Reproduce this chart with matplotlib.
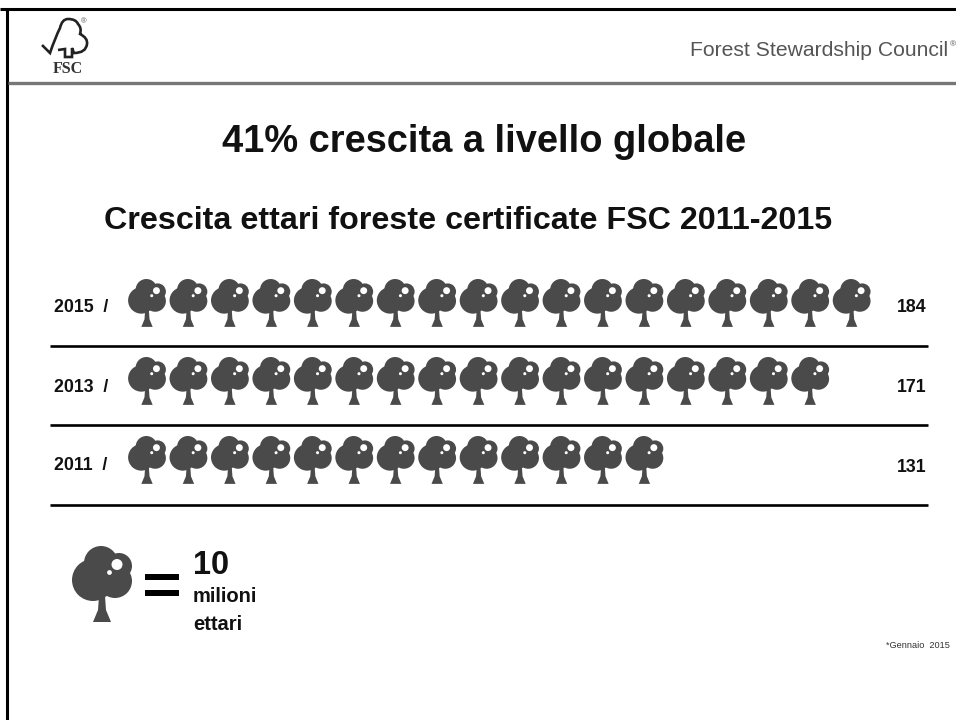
"""FSC slide: certified forest hectares as a row of tree icons."""
import matplotlib
matplotlib.use("Agg")
import matplotlib.pyplot as plt
from matplotlib.patches import Circle, Polygon, PathPatch, Rectangle
from matplotlib.path import Path

plt.rcParams["font.family"] = ["Liberation Sans", "DejaVu Sans"]

years = ["2015", "2013", "2011"]
values = [184, 171, 131]
tree_counts = [18, 17, 13]
row_tops = [279, 357, 436]
label_ys = [307, 387, 466]
rule_ys = [346, 425, 505]

DARK = "#4a4a4a"
INK = "#111111"
W, H = 956, 720

fig = plt.figure(figsize=(W / 100, H / 100), dpi=100)
ax = fig.add_axes([0, 0, 1, 1])
ax.set_xlim(0, W); ax.set_ylim(H, 0); ax.axis("off")


def tree(cx, top, s):
    # lobes measured off the big legend tree, s=1 is 60 px wide
    for dx, dy, r in [(-9, 34, 21), (13, 35, 17), (-1, 17, 17), (17, 20, 13), (3, 30, 17)]:
        ax.add_patch(Circle((cx + dx * s, top + dy * s), r * s, fc=DARK, ec="none"))
    trunk = [(-3, 50), (3, 50), (4, 64), (9, 76), (-9, 76), (-4, 64)]
    ax.add_patch(Polygon([(cx + x * s, top + y * s) for x, y in trunk], fc=DARK, ec="none"))
    ax.add_patch(Circle((cx + 15 * s, top + 18.5 * s), 5.5 * s, fc="white", ec="none"))
    ax.add_patch(Circle((cx + 7.5 * s, top + 26.5 * s), 2.4 * s, fc="white", ec="none"))


# frame and header
ax.plot([0, W], [9, 9], color="black", lw=2.2, solid_capstyle="butt")
ax.plot([7.5, 7.5], [8, H], color="black", lw=2.2, solid_capstyle="butt")
ax.plot([8, W], [82.5, 82.5], color="#777777", lw=2.4, solid_capstyle="butt")
ax.text(948.5, 51, "Forest Stewardship Council", ha="right", va="center",
        fontsize=15.2, color="#555555")
ax.text(949.5, 45, "®", ha="left", va="center", fontsize=6, color="#555555")

# logo
logo = Path([(42, 45), (50, 53), (55, 38), (60, 28), (62, 19), (68, 19), (76, 19), (78, 24),
             (82, 28), (80, 34), (88, 38), (87, 44), (86, 53), (74, 53), (72, 48), (72, 57),
             (65, 57), (65, 49), (58, 50)],
            [Path.MOVETO, Path.LINETO, Path.CURVE3, Path.CURVE3, Path.CURVE3, Path.CURVE3,
             Path.CURVE3, Path.CURVE3, Path.CURVE3, Path.CURVE3, Path.CURVE3, Path.CURVE3,
             Path.CURVE3, Path.CURVE3, Path.LINETO, Path.LINETO, Path.LINETO, Path.LINETO,
             Path.LINETO])
ax.add_patch(PathPatch(logo, fc="none", ec="#222222", lw=1.9))
ax.text(68, 69, "FSC", ha="center", va="center", fontsize=11.5, fontweight="bold",
        family="Liberation Serif", color="#333333")
ax.text(84, 22, "®", ha="center", va="center", fontsize=5.5, color="#555555")

# titles
ax.text(484, 142, "41% crescita a livello globale", ha="center", va="center",
        fontsize=27.4, fontweight="bold", color=INK)
ax.text(468, 221, "Crescita ettari foreste certificate FSC 2011-2015", ha="center", va="center",
        fontsize=23.2, fontweight="bold", color=INK)

# pictogram rows
for year, val, n, top, ly, rule in zip(years, values, tree_counts, row_tops, label_ys, rule_ys):
    ax.text(54, ly, f"{year}  /", ha="left", va="center", fontsize=12.8, fontweight="bold", color=INK)
    ax.text(927, ly + 1, str(val), ha="right", va="center", fontsize=12.8, fontweight="bold", color=INK)
    for i in range(n):
        tree(147 + 41.45 * i, top, 0.63)
    ax.plot([50, 928], [rule, rule], color="black", lw=1.9, solid_capstyle="butt")

# legend
tree(102, 546, 1.0)
ax.add_patch(Rectangle((145, 574), 34, 6, fc="black", ec="none"))
ax.add_patch(Rectangle((145, 590), 34, 6, fc="black", ec="none"))
ax.text(193, 566, "10", ha="left", va="center", fontsize=23.5, fontweight="bold", color=INK)
ax.text(193, 597, "milioni", ha="left", va="center", fontsize=14.5, fontweight="bold", color=INK)
ax.text(193, 625, "ettari", ha="left", va="center", fontsize=14.5, fontweight="bold", color=INK)

ax.text(950, 645, "*Gennaio  2015", ha="right", va="center", fontsize=6.6, color="#333333")

fig.savefig("out.png", dpi=100)
